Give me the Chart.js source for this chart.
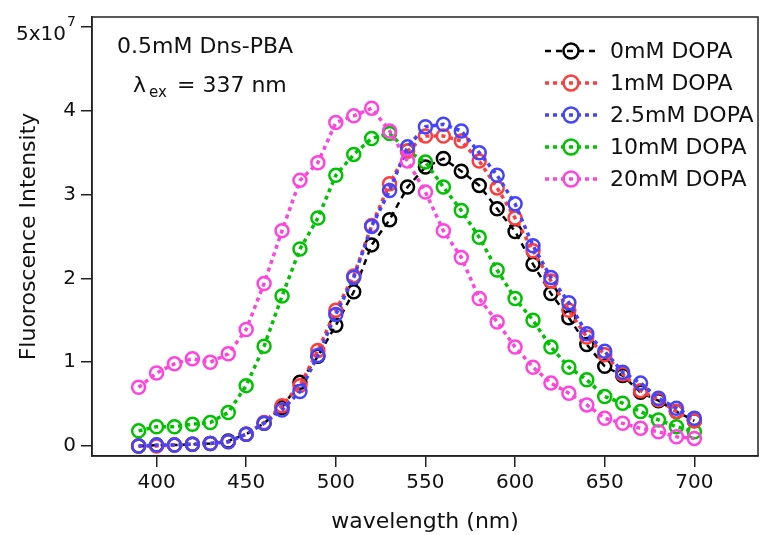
<!DOCTYPE html>
<html>
<head>
<meta charset="utf-8">
<script src="https://cdn.jsdelivr.net/npm/chart.js@4"></script>
<style>
  body { margin: 0; background: #fff; }
  #wrap { width: 767px; height: 535px; }
</style>
</head>
<body>
<div id="wrap"><canvas id="spec" width="767" height="535"></canvas></div>
<script>
// emission spectra, intensity in units of 1e7
var wavelength = [390, 400, 410, 420, 430, 440, 450, 460, 470, 480, 490, 500, 510, 520, 530, 540,
                  550, 560, 570, 580, 590, 600, 610, 620, 630, 640, 650, 660, 670, 680, 690, 700];
var dopa0   = [0.00, 0.01, 0.01, 0.02, 0.03, 0.06, 0.14, 0.27, 0.46, 0.76, 1.07, 1.44, 1.84, 2.40, 2.70, 3.09,
               3.33, 3.43, 3.28, 3.11, 2.83, 2.56, 2.17, 1.82, 1.53, 1.21, 0.95, 0.84, 0.64, 0.54, 0.41, 0.30];
var dopa1   = [0.00, 0.00, 0.01, 0.02, 0.03, 0.05, 0.14, 0.28, 0.48, 0.72, 1.14, 1.62, 2.03, 2.63, 3.13, 3.52,
               3.70, 3.70, 3.64, 3.40, 3.08, 2.72, 2.33, 1.97, 1.62, 1.30, 1.09, 0.86, 0.66, 0.55, 0.41, 0.30];
var dopa2_5 = [0.00, 0.01, 0.01, 0.02, 0.03, 0.05, 0.14, 0.27, 0.43, 0.65, 1.08, 1.57, 2.01, 2.62, 3.05, 3.57,
               3.81, 3.84, 3.76, 3.50, 3.23, 2.89, 2.39, 2.01, 1.71, 1.34, 1.13, 0.88, 0.75, 0.57, 0.45, 0.33];
var dopa10  = [0.18, 0.23, 0.23, 0.26, 0.28, 0.40, 0.72, 1.19, 1.79, 2.35, 2.72, 3.23, 3.48, 3.67, 3.73, 3.52,
               3.39, 3.09, 2.81, 2.49, 2.10, 1.76, 1.50, 1.18, 0.94, 0.79, 0.59, 0.51, 0.41, 0.31, 0.23, 0.17];
var dopa20  = [0.70, 0.87, 0.98, 1.04, 1.00, 1.10, 1.39, 1.94, 2.57, 3.17, 3.38, 3.86, 3.94, 4.03, 3.76, 3.40,
               3.03, 2.57, 2.25, 1.76, 1.48, 1.18, 0.94, 0.75, 0.63, 0.49, 0.33, 0.27, 0.21, 0.17, 0.11, 0.09];
var seriesNames = ['0mM DOPA', '1mM DOPA', '2.5mM DOPA', '10mM DOPA', '20mM DOPA'];
var xTicks = [400, 450, 500, 550, 600, 650, 700];
var yTicks = [0, 1, 2, 3, 4, 5];

var FONT = '"DejaVu Sans", sans-serif';

function series(label, values, color, dash, width, order) {
  return {
    label: label,
    data: wavelength.map(function(w, i) { return {x: w, y: values[i]}; }),
    borderColor: color,
    backgroundColor: 'rgba(0,0,0,0)',
    borderWidth: width,
    borderDash: dash,
    pointRadius: 6.5,
    pointBorderWidth: 2.5,
    pointBorderColor: color,
    pointBackgroundColor: 'rgba(0,0,0,0)',
    tension: 0,
    order: order
  };
}

// frame, text box, legend and the 5x10^7 label
var decor = {
  id: 'decor',
  afterDraw: function(chart) {
    var ctx = chart.ctx, a = chart.chartArea;
    ctx.save();
    ctx.strokeStyle = '#222';
    ctx.lineWidth = 1.5;
    ctx.strokeRect(a.left, a.top, a.right - a.left, a.bottom - a.top);

    ctx.fillStyle = '#111';
    ctx.textBaseline = 'alphabetic';
    // top y tick label with exponent
    var y5 = chart.scales.y.getPixelForValue(5);
    ctx.font = '20px ' + FONT;
    ctx.textAlign = 'right';
    ctx.fillText('5x10', 66, y5 + 13);
    ctx.textAlign = 'left';
    ctx.font = '14px ' + FONT;
    ctx.fillText('7', 67, y5 - 1);

    ctx.font = '22px ' + FONT;
    ctx.fillText('0.5mM Dns-PBA', 117, 53);
    ctx.fillText('\u03bb', 133, 92);
    ctx.font = '15px ' + FONT;
    ctx.fillText('ex', 149, 97);
    ctx.font = '22px ' + FONT;
    ctx.fillText('= 337 nm', 177, 92);

    var rows = [51, 83, 115, 147, 179];
    chart.data.datasets.forEach(function(ds, i) {
      var y = rows[i];
      ctx.strokeStyle = ds.borderColor;
      ctx.lineWidth = ds.borderWidth;
      ctx.setLineDash(ds.borderDash);
      ctx.beginPath();
      ctx.moveTo(545, y);
      ctx.lineTo(597, y);
      ctx.stroke();
      ctx.setLineDash([]);
      ctx.lineWidth = 2.5;
      ctx.beginPath();
      ctx.arc(571, y, 7.5, 0, Math.PI * 2);
      ctx.stroke();
      ctx.fillStyle = '#111';
      ctx.font = '22px ' + FONT;
      ctx.textBaseline = 'middle';
      ctx.fillText(ds.label, 610, y + 1);
    });
    ctx.restore();
  }
};

new Chart(document.getElementById('spec'), {
  type: 'line',
  data: {
    datasets: [
      series(seriesNames[0], dopa0, '#000000', [6, 5], 2.5, 4),
      series(seriesNames[1], dopa1, '#ff3d3d', [4, 4], 3.5, 2),
      series(seriesNames[2], dopa2_5, '#4444ff', [4, 4], 3.5, 1),
      series(seriesNames[3], dopa10, '#00c200', [4, 4], 3.5, 3),
      series(seriesNames[4], dopa20, '#ff44dd', [4, 4], 3.5, 0)
    ]
  },
  options: {
    responsive: false,
    animation: false,
    layout: { padding: { left: 0, right: 4, top: 16, bottom: 0 } },
    plugins: { legend: { display: false }, tooltip: { enabled: false } },
    scales: {
      x: {
        type: 'linear',
        min: 364,
        max: 735.5,
        afterBuildTicks: function(s) { s.ticks = xTicks.map(function(v) { return {value: v}; }); },
        afterFit: function(s) { s.height = 79; },
        grid: { drawOnChartArea: false, drawTicks: true, tickLength: 11, color: '#222', lineWidth: 1.5 },
        border: { display: true, color: '#222', width: 1.5 },
        ticks: { font: { family: FONT, size: 20 }, color: '#111', padding: 4, maxRotation: 0 },
        title: { display: true, text: 'wavelength (nm)', font: { family: FONT, size: 22 }, color: '#111',
                 padding: { top: 9, bottom: 0 } }
      },
      y: {
        type: 'linear',
        min: -0.12,
        max: 5.12,
        afterBuildTicks: function(s) { s.ticks = yTicks.map(function(v) { return {value: v}; }); },
        afterFit: function(s) { s.width = 92; },
        grid: { drawOnChartArea: false, drawTicks: true, tickLength: 11, color: '#222', lineWidth: 1.5 },
        border: { display: true, color: '#222', width: 1.5 },
        ticks: {
          font: { family: FONT, size: 20 }, color: '#111', padding: 5,
          callback: function(v) { return v === 5 ? '' : String(v); }
        },
        title: { display: true, text: 'Fluoroscence Intensity', font: { family: FONT, size: 22 }, color: '#111',
                 padding: { top: 16, bottom: 0 } }
      }
    }
  },
  plugins: [decor]
});
</script>
</body>
</html>
